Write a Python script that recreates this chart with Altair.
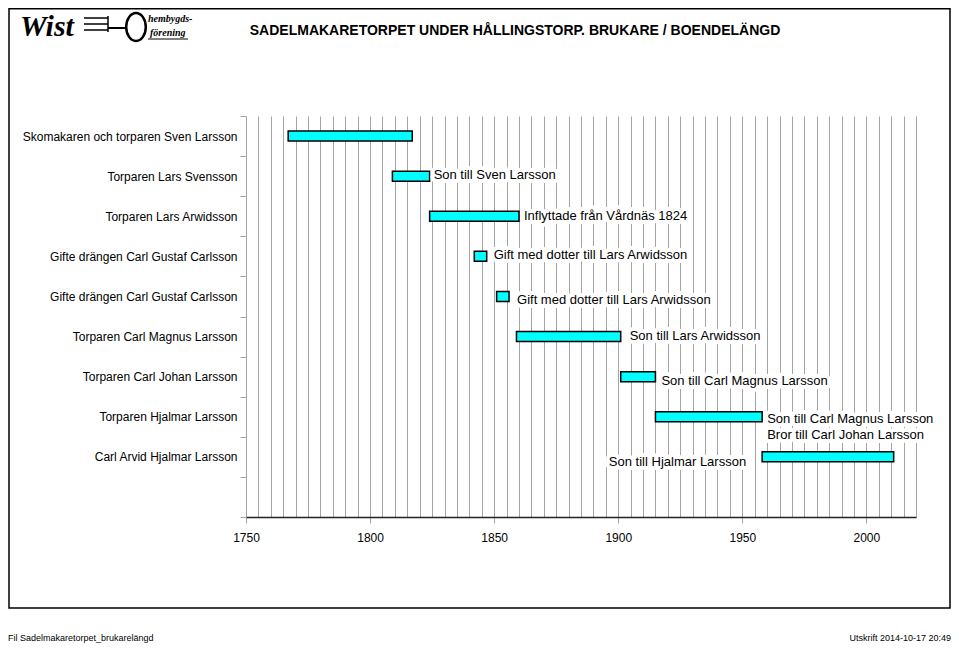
import json
import altair as alt
import pandas as pd

# ---------------- data ----------------
names = [
    "Skomakaren och torparen Sven Larsson",
    "Torparen Lars Svensson",
    "Torparen Lars Arwidsson",
    "Gifte drängen Carl Gustaf Carlsson",
    "Gifte drängen Carl Gustaf Carlsson",
    "Torparen Carl Magnus Larsson",
    "Torparen Carl Johan Larsson",
    "Torparen Hjalmar Larsson",
    "Carl Arvid Hjalmar Larsson",
]
starts = [1767, 1809, 1824, 1842, 1851, 1859, 1901, 1915, 1958]
ends = [1817, 1824, 1860, 1847, 1856, 1901, 1915, 1958, 2011]
notes = [
    "",
    "Son till Sven Larsson",
    "Inflyttade från Vårdnäs 1824",
    "Gift med dotter till Lars Arwidsson",
    "Gift med dotter till Lars Arwidsson",
    "Son till Lars Arwidsson",
    "Son till Carl Magnus Larsson",
    "Son till Carl Magnus Larsson\nBror till Carl Johan Larsson",
    "Son till Hjalmar Larsson",
]
note_side = ["end", "end", "end", "end", "end", "end", "end", "end", "start"]
x_domain = [1750, 2020]
grid_years = [1750, 1755, 1760, 1765, 1770, 1775, 1780, 1785, 1790, 1795,
              1800, 1805, 1810, 1815, 1820, 1825, 1830, 1835, 1840, 1845,
              1850, 1855, 1860, 1865, 1870, 1875, 1880, 1885, 1890, 1895,
              1900, 1905, 1910, 1915, 1920, 1925, 1930, 1935, 1940, 1945,
              1950, 1955, 1960, 1965, 1970, 1975, 1980, 1985, 1990, 1995,
              2000, 2005, 2010, 2015, 2020]
row_slots = [0, 1, 2, 3, 4, 5, 6, 7, 8, 9]
title_text = "SADELMAKARETORPET UNDER HÅLLINGSTORP. BRUKARE / BOENDELÄNGD"
footer_left = "Fil Sadelmakaretorpet_brukarelängd"
footer_right = "Utskrift 2014-10-17 20:49"

# ---------------- styles ----------------
FONT = "Liberation Sans"
GRID = "#a4a4a4"
note_dx = [0, 4, 5, 7, 8, 9, 6, 5, -16]
note_dy = [0, -1, 0, -1, 4, -1, 4, 2, 5]

bars = pd.DataFrame({"row": list(range(len(names))), "start": starts, "end": ends})

x_scale = alt.Scale(domain=x_domain, nice=False, zero=False)
y_scale = alt.Scale(domain=row_slots, paddingInner=0, paddingOuter=0)

names_js = json.dumps(names, ensure_ascii=False)
y_axis = alt.Axis(
    title=None, domain=False, grid=False, tickBand="extent",
    tickColor=GRID, tickSize=6, tickWidth=1,
    labelExpr=f"{names_js}[datum.value] || ''",
    labelFont=FONT, labelFontSize=12, labelColor="black", labelPadding=3,
    labelLimit=400,
)
x_axis = alt.Axis(
    title=None, values=grid_years, format="d",
    grid=True, gridColor=GRID, gridWidth=1,
    tickColor=GRID, tickSize=6,
    tickOpacity={"condition": {"test": "datum.value % 50 === 0", "value": 1}, "value": 0},
    labelExpr="datum.value % 50 === 0 ? datum.label : ''",
    labelFont=FONT, labelFontSize=12, labelColor="black", labelPadding=9,
    labelOverlap=False, labelFlush=False,
    domainColor="#222222", domainWidth=1.5,
)

bar_layer = alt.Chart(bars).mark_bar(
    size=10, fill="#00ffff", stroke="black", strokeWidth=1.5
).encode(
    x=alt.X("start:Q", scale=x_scale, axis=x_axis),
    x2="end:Q",
    y=alt.Y("row:O", scale=y_scale, axis=y_axis),
)

halos, texts = [], []
for i, note in enumerate(notes):
    if not note:
        continue
    anchor = ends[i] if note_side[i] == "end" else starts[i]
    df = pd.DataFrame({"row": [i], "x": [anchor], "note": [note]})
    enc = dict(
        x=alt.X("x:Q", scale=x_scale, axis=x_axis),
        y=alt.Y("row:O", scale=y_scale, axis=y_axis),
        text="note:N",
    )
    kw = dict(
        align="left" if note_side[i] == "end" else "right",
        baseline="middle", dx=note_dx[i], dy=note_dy[i],
        font=FONT, fontSize=13, lineBreak="\n", lineHeight=16,
    )
    halos.append(alt.Chart(df).mark_text(
        fill="white", stroke="white", strokeWidth=8, strokeJoin="round", **kw
    ).encode(**enc))
    texts.append(alt.Chart(df).mark_text(fill="black", **kw).encode(**enc))

one = pd.DataFrame({"k": [0]})
# plot origin sits at page (246, 116)
deco = []
deco.append(alt.Chart(one).mark_rect(fillOpacity=0, stroke="black", strokeWidth=1.5).encode(
    x=alt.value(-237), x2=alt.value(704), y=alt.value(-107.25), y2=alt.value(492)))
deco.append(alt.Chart(one).mark_text(
    text=title_text, font=FONT, fontSize=14, fontWeight="bold", align="center", baseline="middle"
).encode(x=alt.value(269), y=alt.value(-85)))
deco.append(alt.Chart(one).mark_text(
    text=footer_left, font=FONT, fontSize=9, align="left", baseline="middle"
).encode(x=alt.value(-238), y=alt.value(522)))
deco.append(alt.Chart(one).mark_text(
    text=footer_right, font=FONT, fontSize=9, align="right", baseline="middle"
).encode(x=alt.value(705), y=alt.value(522)))

# logo
deco.append(alt.Chart(one).mark_text(
    text="Wist", font="Liberation Serif", fontSize=30, fontWeight="bold", fontStyle="italic",
    align="left", baseline="alphabetic"
).encode(x=alt.value(-226), y=alt.value(-80)))
for yy in [-98, -92, -86]:
    deco.append(alt.Chart(one).mark_rule(stroke="black", strokeWidth=1.5).encode(
        x=alt.value(-162), x2=alt.value(-138), y=alt.value(yy)))
deco.append(alt.Chart(one).mark_rule(stroke="black", strokeWidth=1.5).encode(
    x=alt.value(-138), y=alt.value(-100), y2=alt.value(-84)))
deco.append(alt.Chart(one).mark_rule(stroke="black", strokeWidth=2).encode(
    x=alt.value(-138), x2=alt.value(-120), y=alt.value(-88)))
deco.append(alt.Chart(one).mark_point(
    shape="M0,-1A0.7,1,0,1,1,0,1A0.7,1,0,1,1,0,-1", size=784, filled=False,
    stroke="black", strokeWidth=2.5, opacity=1
).encode(x=alt.value(-110), y=alt.value(-89)))
deco.append(alt.Chart(one).mark_text(
    text="hembygds-", font="Liberation Serif", fontSize=10, fontStyle="italic", fontWeight="bold",
    align="left", baseline="middle"
).encode(x=alt.value(-98), y=alt.value(-97)))
deco.append(alt.Chart(one).mark_text(
    text="förening", font="Liberation Serif", fontSize=10, fontStyle="italic", fontWeight="bold",
    align="left", baseline="middle"
).encode(x=alt.value(-96), y=alt.value(-83)))
deco.append(alt.Chart(one).mark_rule(stroke="black", strokeWidth=1).encode(
    x=alt.value(-98), x2=alt.value(-58), y=alt.value(-77)))

chart = alt.layer(bar_layer, *halos, *texts, *deco).properties(
    width=670, height=401,
    autosize=alt.AutoSizeParams(type="none"),
    padding={"left": 238, "top": 108, "right": 35, "bottom": 129},
    background="white",
).configure_view(stroke=None)

chart.save("out.html", embed_options={"renderer": "svg", "actions": False})
